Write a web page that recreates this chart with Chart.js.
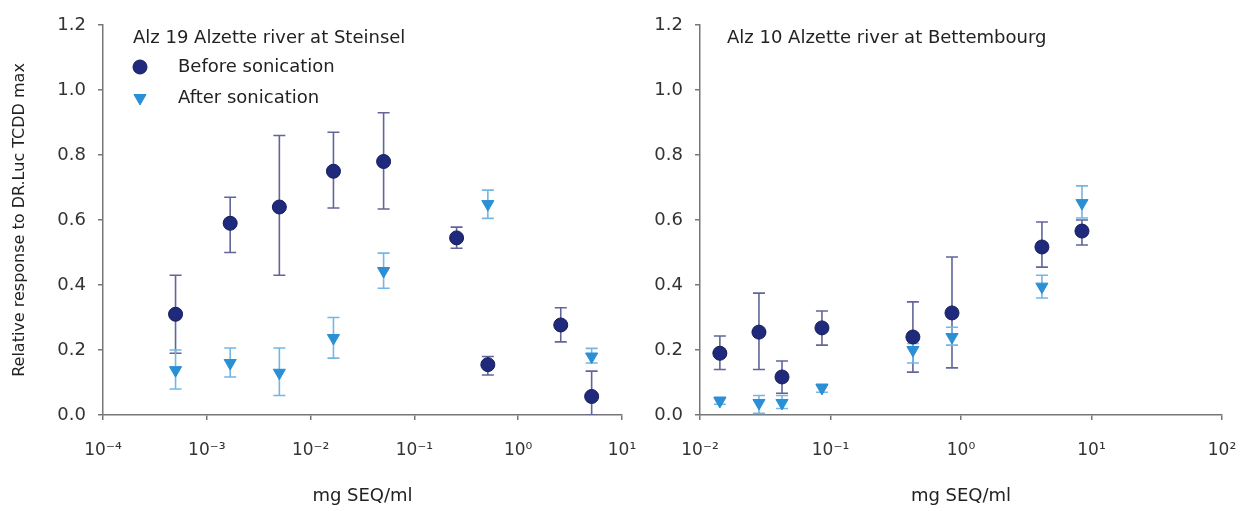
<!DOCTYPE html>
<html>
<head>
<meta charset="utf-8">
<script src="https://cdn.jsdelivr.net/npm/chart.js@4.4.1/dist/chart.umd.min.js"></script>
<style>
  html, body { margin: 0; padding: 0; background: #fff; }
  #wrap { position: relative; width: 1241px; height: 511px; }
  .panel { position: absolute; top: 0; height: 511px; }
  #left { left: 0; width: 640px; }
  #right { left: 640px; width: 601px; }
</style>
</head>
<body>
<div id="wrap">
  <div class="panel" id="left"><canvas id="chartLeft"></canvas></div>
  <div class="panel" id="right"><canvas id="chartRight"></canvas></div>
</div>
<script>
// Alz 19 - Steinsel
const steinselX = [0.0005, 0.00168, 0.005, 0.0166, 0.0505, 0.255, 0.51, 2.57, 5.1];
const steinselBefore = [0.31, 0.59, 0.64, 0.75, 0.78, 0.545, 0.155, 0.277, 0.057];
const steinselBeforeHi = [0.43, 0.67, 0.86, 0.87, 0.93, 0.578, 0.18, 0.33, 0.135];
const steinselBeforeLo = [0.19, 0.50, 0.43, 0.637, 0.634, 0.513, 0.123, 0.225, 0.0];

const steinselAfterX = [0.0005, 0.00168, 0.005, 0.0166, 0.0505, 0.51, 5.1];
const steinselAfter = [0.138, 0.16, 0.13, 0.237, 0.443, 0.649, 0.18];
const steinselAfterHi = [0.2, 0.206, 0.206, 0.30, 0.498, 0.692, 0.205];
const steinselAfterLo = [0.08, 0.117, 0.06, 0.175, 0.39, 0.605, 0.16];

// Alz 10 - Bettembourg
const bettX = [0.0142, 0.0283, 0.0425, 0.086, 0.428, 0.853, 4.17, 8.45];
const bettBefore = [0.19, 0.255, 0.117, 0.268, 0.24, 0.314, 0.517, 0.566];
const bettBeforeHi = [0.243, 0.375, 0.166, 0.32, 0.348, 0.486, 0.594, 0.60];
const bettBeforeLo = [0.14, 0.14, 0.067, 0.215, 0.132, 0.145, 0.455, 0.523];
const bettAfter = [0.043, 0.037, 0.037, 0.083, 0.2, 0.24, 0.395, 0.652];
const bettAfterHi = [0.055, 0.06, 0.06, 0.095, 0.22, 0.27, 0.43, 0.705];
const bettAfterLo = [0.033, 0.005, 0.02, 0.07, 0.16, 0.215, 0.36, 0.606];

const xTicksLeft = [1e-4, 1e-3, 1e-2, 1e-1, 1, 10];
const xLabelsLeft = ['10\u207B\u2074', '10\u207B\u00B3', '10\u207B\u00B2', '10\u207B\u00B9', '10\u2070', '10\u00B9'];
const xTicksRight = [1e-2, 1e-1, 1, 10, 100];
const xLabelsRight = ['10\u207B\u00B2', '10\u207B\u00B9', '10\u2070', '10\u00B9', '10\u00B2'];

const seriesNames = ['Before sonication', 'After sonication'];
const titleLeft = 'Alz 19 Alzette river at Steinsel';
const titleRight = 'Alz 10 Alzette river at Bettembourg';

const NAVY = '#1f2a7c';
const NAVY_EDGE = '#141c5a';
const NAVY_BAR = '#62659a';
const SKY = '#2b8fd6';
const SKY_BAR = '#74b6e4';
const FONT = '"DejaVu Sans", sans-serif';

function pts(xs, ys) {
    return xs.map((x, i) => ({ x: x, y: ys[i] }));
}

// error bars under the markers
const errorBars = {
    id: 'errorBars',
    beforeDatasetsDraw(chart) {
        const ctx = chart.ctx;
        const xs = chart.scales.x, ys = chart.scales.y;
        const area = chart.chartArea;
        ctx.save();
        ctx.beginPath();
        ctx.rect(area.left - 10, area.top, area.right - area.left + 20, area.bottom - area.top);
        ctx.clip();
        chart.data.datasets.forEach(ds => {
            if (!ds.errHi) return;
            ctx.strokeStyle = ds.errColor;
            ctx.lineWidth = 1.6;
            ds.data.forEach((p, i) => {
                const px = xs.getPixelForValue(p.x);
                const top = ys.getPixelForValue(ds.errHi[i]);
                const bot = ys.getPixelForValue(ds.errLo[i]);
                ctx.beginPath();
                ctx.moveTo(px, top); ctx.lineTo(px, bot);
                ctx.moveTo(px - 6, top); ctx.lineTo(px + 6, top);
                ctx.moveTo(px - 6, bot); ctx.lineTo(px + 6, bot);
                ctx.stroke();
            });
        });
        ctx.restore();
    }
};

// panel title and legend drawn inside the plot area
const insideLabels = {
    id: 'insideLabels',
    afterDraw(chart, args, opts) {
        const ctx = chart.ctx;
        const left = chart.chartArea.left;
        ctx.save();
        ctx.fillStyle = '#222';
        ctx.font = '18px ' + FONT;
        ctx.textBaseline = 'middle';
        ctx.fillText(opts.title, left + opts.dx, 38);
        if (opts.legend) {
            chart.data.datasets.forEach((ds, i) => {
                const y = 67 + i * 31;
                ctx.fillStyle = ds.backgroundColor;
                ctx.strokeStyle = ds.borderColor;
                ctx.lineWidth = 1;
                Chart.helpers.drawPoint(ctx, {
                    pointStyle: ds.pointStyle, radius: ds.pointRadius, rotation: ds.rotation || 0,
                    borderWidth: 1
                }, left + 37, y);
                ctx.fillStyle = '#222';
                ctx.fillText(ds.label, left + 75, y);
            });
        }
        ctx.restore();
    }
};

function makeDatasets(bx, b, bhi, blo, ax, a, ahi, alo) {
    return [
        {
            label: seriesNames[0], data: pts(bx, b), errHi: bhi, errLo: blo, errColor: NAVY_BAR,
            pointStyle: 'circle', pointRadius: 7, backgroundColor: NAVY, borderColor: NAVY_EDGE,
            borderWidth: 1, showLine: false, order: 1
        },
        {
            label: seriesNames[1], data: pts(ax, a), errHi: ahi, errLo: alo, errColor: SKY_BAR,
            pointStyle: 'triangle', rotation: 180, pointRadius: 7, backgroundColor: SKY, borderColor: SKY,
            borderWidth: 1, showLine: false, order: 0
        }
    ];
}

function makeOptions(cfg) {
    return {
        responsive: false,
        animation: false,
        layout: { padding: { left: cfg.padLeft, right: cfg.padRight, top: 25, bottom: 0 } },
        plugins: {
            legend: { display: false },
            tooltip: { enabled: false },
            insideLabels: { title: cfg.title, legend: cfg.legend, dx: cfg.titleDx }
        },
        scales: {
            x: {
                type: 'logarithmic',
                min: cfg.ticks[0],
                max: cfg.ticks[cfg.ticks.length - 1],
                afterBuildTicks: s => { s.ticks = cfg.ticks.map(v => ({ value: v })); },
                afterFit: s => {
                    // fixed axis box, no extra room for overhanging labels
                    s.height = 96;
                    s.paddingLeft = 0;
                    s.paddingRight = 0;
                },
                grid: { drawOnChartArea: false, tickLength: 5, color: '#777', lineWidth: 1.5 },
                border: { display: true, color: '#777', width: 1.5 },
                ticks: {
                    color: '#333', font: { family: FONT, size: 17 }, padding: 20, maxRotation: 0,
                    autoSkip: false,
                    callback: (v, i) => cfg.labels[i]
                },
                title: {
                    display: true, text: 'mg SEQ/ml', color: '#222',
                    font: { family: FONT, size: 18 }, padding: { top: 0, bottom: 4 }
                }
            },
            y: {
                min: 0, max: 1.2,
                afterFit: s => { s.width = cfg.yWidth; },
                grid: { drawOnChartArea: false, tickLength: 5, color: '#777', lineWidth: 1.5 },
                border: { display: true, color: '#777', width: 1.5 },
                ticks: {
                    stepSize: 0.2, color: '#333', font: { family: FONT, size: 18 }, padding: 12,
                    callback: v => v.toFixed(1)
                },
                title: {
                    display: cfg.yTitle, text: 'Relative response to DR.Luc TCDD max', color: '#222',
                    font: { family: FONT, size: 16 }, padding: 0
                }
            }
        }
    };
}

function sizeCanvas(id, w) {
    const c = document.getElementById(id);
    c.width = w; c.height = 511;
    c.style.width = w + 'px'; c.style.height = '511px';
    return c;
}

new Chart(sizeCanvas('chartLeft', 640), {
    type: 'scatter',
    data: {
        datasets: makeDatasets(steinselX, steinselBefore, steinselBeforeHi, steinselBeforeLo,
            steinselAfterX, steinselAfter, steinselAfterHi, steinselAfterLo)
    },
    options: makeOptions({
        padLeft: 10, padRight: 18, yWidth: 93, yTitle: true, title: titleLeft, legend: true, titleDx: 30,
        ticks: xTicksLeft, labels: xLabelsLeft
    }),
    plugins: [errorBars, insideLabels]
});

new Chart(sizeCanvas('chartRight', 601), {
    type: 'scatter',
    data: {
        datasets: makeDatasets(bettX, bettBefore, bettBeforeHi, bettBeforeLo,
            bettX, bettAfter, bettAfterHi, bettAfterLo)
    },
    options: makeOptions({
        padLeft: 0, padRight: 19, yWidth: 60, yTitle: false, title: titleRight, legend: false, titleDx: 27,
        ticks: xTicksRight, labels: xLabelsRight
    }),
    plugins: [errorBars, insideLabels]
});
</script>
</body>
</html>
